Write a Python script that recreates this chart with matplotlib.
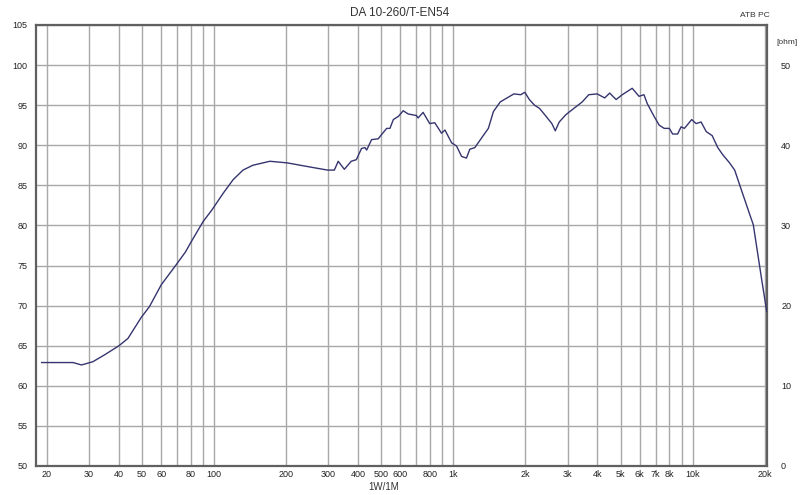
import numpy as np
import matplotlib.pyplot as plt
from matplotlib.ticker import FixedLocator, FixedFormatter, NullLocator

# frequency response (Hz, dB)
freq = [19, 22, 25.7, 27.9, 31.1, 35, 40, 43.6, 49.5, 53.7, 60.1, 69.4, 75.9, 80.3,
        90, 97.7, 109, 120, 132, 145, 171, 202, 250, 298, 318, 330, 350, 374, 393,
        413, 427, 434, 455, 485, 500, 526, 543, 561, 589, 617, 647, 701, 712, 747,
        796, 836, 892, 922, 983, 1031, 1082, 1134, 1171, 1229, 1311, 1400, 1470,
        1570, 1676, 1790, 1912, 1989, 2077, 2182, 2290, 2410, 2580, 2666, 2770,
        2950, 3190, 3455, 3680, 3990, 4290, 4500, 4790, 5080, 5590, 5970, 6260,
        6460, 6900, 7250, 7610, 7990, 8250, 8660, 8950, 9240, 9910, 10340, 10850,
        11400, 12070, 12740, 13380, 14270, 14990, 15750, 17360, 17930, 19450, 20400]
spl = [62.9, 62.9, 62.9, 62.6, 63.0, 63.9, 65.0, 65.9, 68.5, 69.9, 72.6, 75.1, 76.7,
       78.0, 80.5, 81.9, 84.0, 85.7, 86.9, 87.5, 88.0, 87.8, 87.3, 86.9, 86.9, 88.0,
       87.0, 88.0, 88.2, 89.6, 89.7, 89.4, 90.7, 90.8, 91.3, 92.1, 92.1, 93.2, 93.6,
       94.3, 93.9, 93.7, 93.4, 94.1, 92.7, 92.8, 91.5, 91.9, 90.3, 89.9, 88.6, 88.4,
       89.5, 89.7, 90.9, 92.1, 94.2, 95.4, 95.9, 96.4, 96.3, 96.6, 95.7, 95.0, 94.6,
       93.8, 92.7, 91.8, 92.9, 93.8, 94.6, 95.4, 96.3, 96.4, 95.9, 96.5, 95.7, 96.3,
       97.1, 96.1, 96.3, 95.2, 93.6, 92.5, 92.1, 92.1, 91.4, 91.4, 92.3, 92.1, 93.2,
       92.7, 92.9, 91.7, 91.2, 89.7, 88.8, 87.8, 86.9, 85.0, 81.3, 80.1, 73.2, 69.3]

grid_freqs = [20, 30, 40, 50, 60, 70, 80, 90, 100, 200, 300, 400, 500, 600, 700, 800,
              900, 1000, 2000, 3000, 4000, 5000, 6000, 7000, 8000, 9000, 10000, 20000]
tick_labels = ['20', '30', '40', '50', '60', '', '80', '', '100', '200', '300', '400',
               '500', '600', '', '800', '', '1k', '2k', '3k', '4k', '5k', '6k', '7k',
               '8k', '', '10k', '20k']
db_ticks = list(range(50, 106, 5))
ohm_ticks = [0, 10, 20, 30, 40, 50]

plt.rcParams['font.family'] = ['Liberation Sans', 'DejaVu Sans']

fig = plt.figure(figsize=(8, 4.95), dpi=100)
ax = fig.add_axes([0.045, 0.0586, 0.914, 0.891])

ax.semilogx(freq, spl, color='#35356f', lw=1.0, zorder=3)
ax.set_xlim(18, 20500)
ax.set_ylim(50, 105)

ax.xaxis.set_major_locator(FixedLocator(grid_freqs))
ax.xaxis.set_major_formatter(FixedFormatter(tick_labels))
ax.xaxis.set_minor_locator(NullLocator())
ax.set_yticks(db_ticks)
ax.grid(True, color='#a8a8a8', lw=1.0)
ax.tick_params(length=0, labelsize=6.5, colors='#222222')
ax.tick_params(axis='x', pad=3)
ax.tick_params(axis='y', pad=6)

for s in ax.spines.values():
    s.set_color('#606060')
    s.set_linewidth(1.6)

ax2 = ax.twinx()
ax2.set_ylim(0, 55)
ax2.set_yticks(ohm_ticks)
ax2.tick_params(length=0, labelsize=6.5, pad=10, colors='#222222')
for s in ax2.spines.values():
    s.set_visible(False)

fig.text(0.5, 0.973, 'DA 10-260/T-EN54', ha='center', va='center', fontsize=8.5, color='#333333')
fig.text(0.962, 0.969, 'ATB PC', ha='right', va='center', fontsize=6, color='#333333')
fig.text(0.984, 0.915, '[ohm]', ha='center', va='center', fontsize=6, color='#333333')
fig.text(0.48, 0.016, '1W/1M', ha='center', va='center', fontsize=7, color='#333333')

fig.savefig('out.png', dpi=100)
